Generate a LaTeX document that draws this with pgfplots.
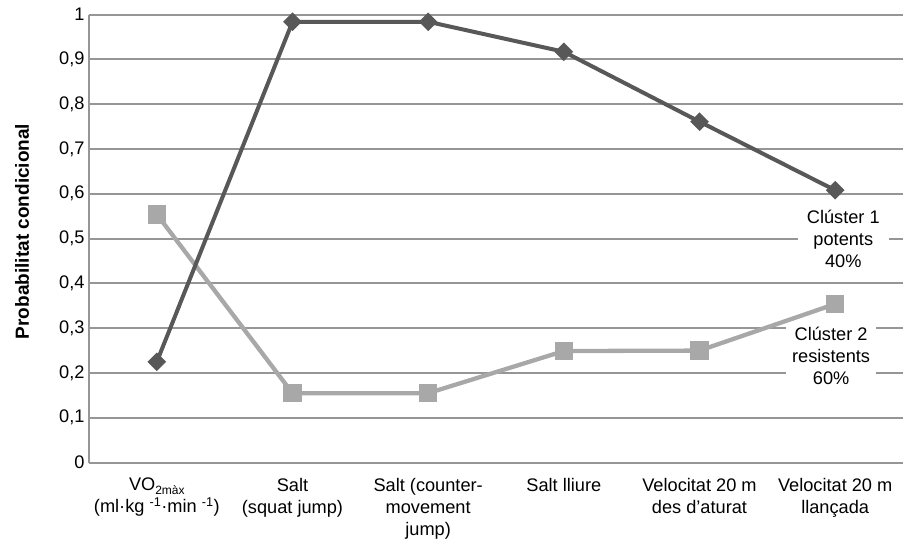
\documentclass[border=0pt]{standalone}
\usepackage{fontspec}
\setmainfont{Liberation Sans}
\usepackage{pgfplots}
\pgfplotsset{compat=1.18}
\definecolor{darkser}{RGB}{88,88,88}
\definecolor{lightser}{RGB}{168,168,168}
\definecolor{gridc}{RGB}{150,150,150}
\newcommand{\lblfont}{\fontsize{18.2}{22}\selectfont}
\begin{document}
\begin{tikzpicture}
\begin{axis}[
  name=ax, at={(0,0)}, anchor=south west,
  scale only axis, width=814pt, height=448pt,
  xmin=-0.5, xmax=5.5, ymin=0, ymax=1,
  axis x line*=bottom, axis y line*=left,
  axis line style={gridc, line width=2pt, -},
  ymajorgrids, major grid style={gridc, line width=2pt},
  major tick length=0pt,
  xtick={0,1,2,3,4,5},
  xticklabels={
    {VO\raisebox{-4pt}{\fontsize{12}{12}\selectfont 2màx}\\(ml·kg \textsuperscript{-1}·min \textsuperscript{-1})},
    {Salt\\(squat jump)},
    {Salt (counter-\\movement\\jump)},
    {Salt lliure},
    {Velocitat 20 m\\des d’aturat},
    {Velocitat 20 m\\llançada}},
  xticklabel style={align=center, anchor=north, font=\lblfont, yshift=-12pt},
  ytick={0,0.1,0.2,0.3,0.4,0.5,0.6,0.7,0.8,0.9,1},
  yticklabels={0,{0,1},{0,2},{0,3},{0,4},{0,5},{0,6},{0,7},{0,8},{0,9},1},
  yticklabel style={font=\lblfont, xshift=-1pt},
  ylabel={Probabilitat condicional},
  ylabel style={font=\bfseries\fontsize{19}{20}\selectfont, at={(axis description cs:-0.0823,0.516)}, anchor=center},
]
\node[fill=white, align=center, inner xsep=9pt, inner ysep=3pt, font=\lblfont] at (axis cs:5.06,0.5) {Clúster 1\\potents\\40\%};
\node[fill=white, align=center, inner xsep=6pt, inner ysep=3pt, font=\lblfont] at (axis cs:4.97,0.238) {Clúster 2\\resistents\\60\%};
\addplot[lightser, line width=4.3pt, mark=square*, mark size=7pt, mark options={solid, fill=lightser, draw=none}]
  coordinates {(0,0.554)(1,0.155)(2,0.155)(3,0.249)(4,0.250)(5,0.354)};
\addplot[darkser, line width=4pt, mark=square*, mark size=4.6pt, mark options={solid, rotate=45, fill=darkser, draw=none}]
  coordinates {(0,0.225)(1,0.984)(2,0.984)(3,0.917)(4,0.761)(5,0.608)};
\end{axis}
\pgfresetboundingbox
\path[use as bounding box] (ax.south west) ++(-89pt,-80.4pt) rectangle ([xshift=1pt,yshift=14.6pt]ax.north east);
\end{tikzpicture}
\end{document}
